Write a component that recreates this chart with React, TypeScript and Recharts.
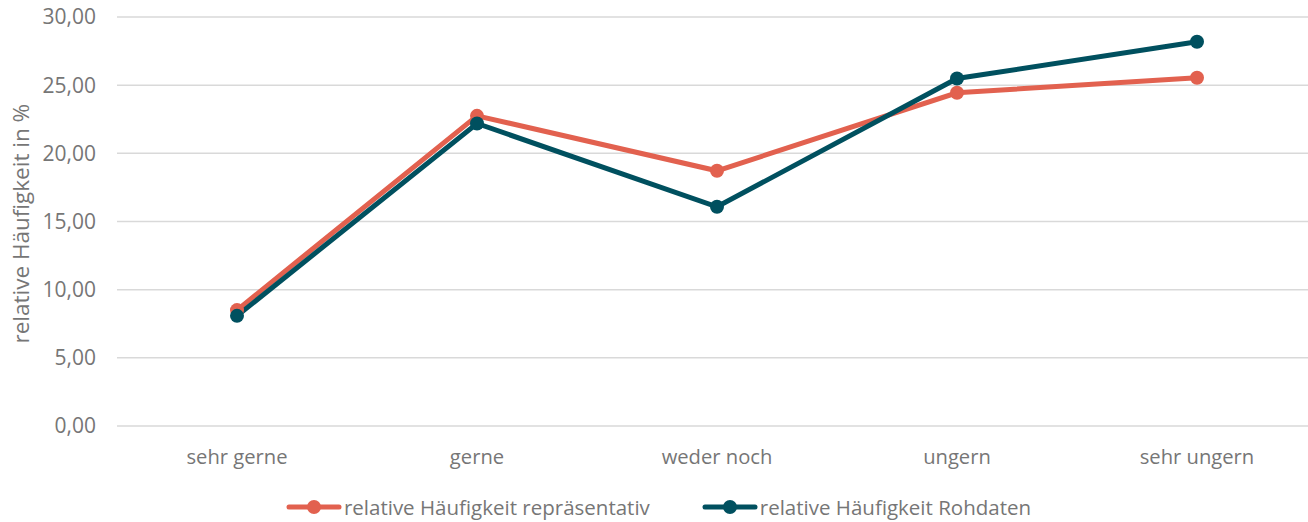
import React from "react";
import { LineChart, Line, XAxis, YAxis, CartesianGrid, Legend } from "recharts";

const categories = ["sehr gerne", "gerne", "weder noch", "ungern", "sehr ungern"];
const repraesentativ = [8.5, 22.75, 18.72, 24.44, 25.54];
const rohdaten = [8.08, 22.19, 16.08, 25.49, 28.18];
const yTicks = [0, 5, 10, 15, 20, 25, 30];
const seriesNames = ["relative Häufigkeit repräsentativ", "relative Häufigkeit Rohdaten"];

const RED = "#E2614F";
const TEAL = "#00505F";
const TEXT = "#767676";
const FONT = "'Open Sans', sans-serif";
const seriesColors = [RED, TEAL];

const data = categories.map((c, i) => ({ cat: c, rep: repraesentativ[i], roh: rohdaten[i] }));

const fmt = (v: number) => v.toFixed(2).replace(".", ",");

const LegendContent = () => (
  <div style={{ display: "flex", justifyContent: "center", gap: 52, paddingTop: 11, fontFamily: FONT, fontSize: 20.5, color: TEXT }}>
    {seriesNames.map((n, i) => (
      <div key={n} style={{ display: "flex", alignItems: "center" }}>
        <svg width={56} height={16} style={{ marginRight: 2 }}>
          <line x1={3} y1={8} x2={53} y2={8} stroke={seriesColors[i]} strokeWidth={5} strokeLinecap="round" />
          <circle cx={28} cy={8} r={7} fill={seriesColors[i]} />
        </svg>
        <span>{n}</span>
      </div>
    ))}
  </div>
);

export default function App() {
  return (
    <div style={{ position: "absolute", left: 0, top: 0, width: 1320, height: 522, background: "#fff" }}>
      <LineChart width={1320} height={522} data={data} margin={{ top: 17, right: 3, left: 0, bottom: 0 }}>
        <CartesianGrid vertical={false} stroke="#D9D9D9" strokeWidth={1.5} />
        <XAxis
          dataKey="cat"
          axisLine={false}
          tickLine={false}
          tickSize={0}
          tickMargin={24}
          height={56}
          padding={{ left: 120, right: 120 }}
          tick={{ fill: TEXT, fontSize: 20.2, fontFamily: FONT }}
        />
        <YAxis
          domain={[0, 30]}
          ticks={yTicks}
          tickFormatter={fmt}
          axisLine={false}
          tickLine={false}
          tickSize={0}
          tickMargin={21}
          width={117}
          tick={{ fill: TEXT, fontSize: 21, fontFamily: FONT }}
          label={{
            value: "relative Häufigkeit in %",
            angle: -90,
            position: "insideLeft",
            dx: 16,
            dy: 122,
            style: { fill: TEXT, fontSize: 22.5, fontFamily: FONT },
          }}
        />
        <Legend verticalAlign="bottom" height={40} content={<LegendContent />} />
        <Line
          dataKey="rep"
          name={seriesNames[0]}
          stroke={RED}
          strokeWidth={5}
          dot={{ r: 7, fill: RED, stroke: RED, strokeWidth: 0 }}
          activeDot={false}
          isAnimationActive={false}
        />
        <Line
          dataKey="roh"
          name={seriesNames[1]}
          stroke={TEAL}
          strokeWidth={5}
          dot={{ r: 7, fill: TEAL, stroke: TEAL, strokeWidth: 0 }}
          activeDot={false}
          isAnimationActive={false}
        />
      </LineChart>
    </div>
  );
}
